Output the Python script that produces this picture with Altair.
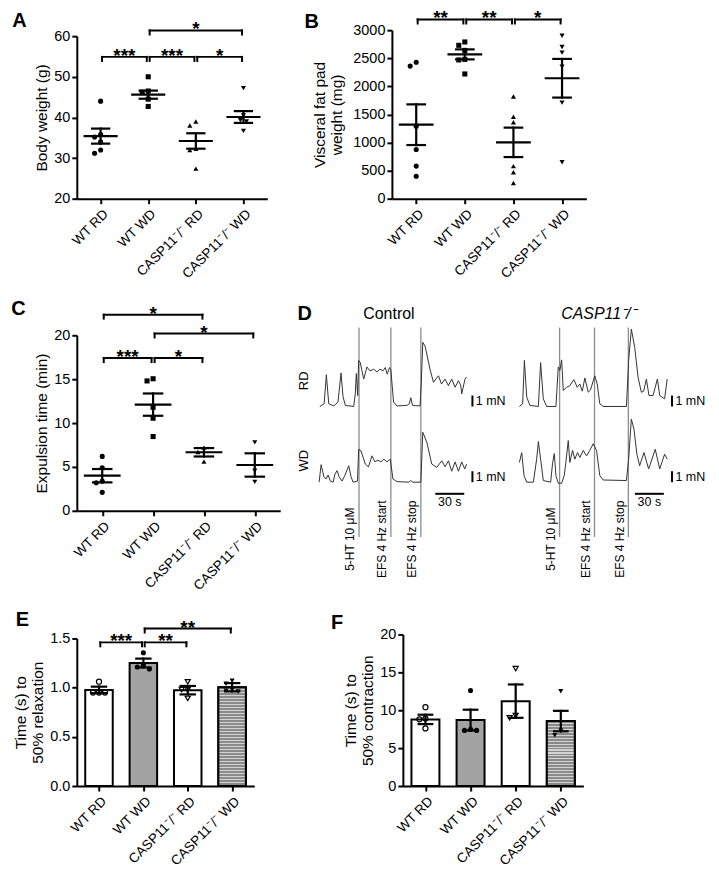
import json
import pandas as pd
import altair as alt

FONT = "Liberation Sans"
CATS = ["WT RD", "WT WD", "CASP11⁻/⁻ RD", "CASP11⁻/⁻ WD"]
LABEL_EXPR = json.dumps(CATS, ensure_ascii=False) + "[datum.value]"

# ---------------- Panel A: body weight (g)
a_wt_rd = [44.0, 35.8, 35.2, 34.0, 32.0, 31.2]
a_wt_wd = [50.0, 46.5, 46.2, 44.5, 42.7]
a_ko_rd = [39.0, 38.0, 34.5, 32.3, 32.0, 27.4]
a_ko_wd = [47.2, 40.5, 39.3, 39.0, 36.7]
a_mean = [35.4, 45.6, 34.2, 40.1]
a_sem = [1.85, 1.0, 1.9, 1.45]
a_brackets = [(0, 1, 54.9, "***"), (1, 2, 54.9, "***"), (2, 3, 54.9, "*"), (1, 3, 61.4, "*")]

# ---------------- Panel B: visceral fat pad weight (mg)
b_wt_rd = [2430, 2360, 1290, 875, 580, 400]
b_wt_wd = [2790, 2730, 2640, 2480, 2470, 2220]
b_ko_rd = [1820, 1460, 1360, 580, 470, 280]
b_ko_wd = [2900, 2700, 2600, 2350, 1710, 650]
b_mean = [1317, 2569, 1003, 2144]
b_sem = [362, 89, 262, 344]
b_brackets = [(0, 1, 3190, "**"), (1, 2, 3190, "**"), (2, 3, 3190, "*")]

# ---------------- Panel C: expulsion time (min)
c_wt_rd = [6.2, 4.9, 3.4, 3.2, 2.1]
c_wt_wd = [15.05, 14.8, 11.8, 10.55, 8.46]
c_ko_rd = [7.2, 6.7, 5.6]
c_ko_wd = [7.8, 4.57, 3.3]
c_mean = [4.0, 12.1, 6.67, 5.22]
c_sem = [0.76, 1.27, 0.48, 1.33]
c_brackets = [(0, 1, 17.4, "***"), (1, 2, 17.4, "*"), (1, 3, 20.2, "*"), (0, 2, 22.35, "*")]

# ---------------- Panel E: time to 50% relaxation (s)
e_wt_rd = [1.06, 0.95, 0.95, 0.95]
e_wt_wd = [1.355, 1.23, 1.21, 1.19]
e_ko_rd = [1.06, 0.98, 0.98, 0.89]
e_ko_wd = [1.07, 1.04, 0.98, 0.97, 0.96]
e_mean = [0.977, 1.25, 0.974, 1.004]
e_sem = [0.033, 0.045, 0.043, 0.042]
e_brackets = [(0, 1, 1.46, "***"), (1, 2, 1.46, "**"), (1, 3, 1.60, "**")]

# ---------------- Panel F: time to 50% contraction (s)
f_wt_rd = [10.4, 8.9, 8.8, 7.6]
f_wt_wd = [12.6, 7.47, 7.34, 7.34]
f_ko_rd = [15.5, 9.3, 9.0]
f_ko_wd = [12.5, 7.3, 6.7]
f_mean = [8.79, 8.7, 11.2, 8.57]
f_sem = [0.62, 1.37, 2.2, 1.35]

# ---------------- Panel D: isometric force traces (time s, force mN above baseline)
ctrl_rd_t = [0.7, 5.2, 7.5, 10, 15.2, 19.6, 22.7, 24.8, 27.2, 35.9, 37.5, 38.6, 40, 41, 42.7, 46.2, 49.6, 52.7,
             56.6, 60, 63, 66.2, 68.6, 70.6, 73.1, 74.4, 77.2, 80.7, 91, 93.6, 95.1, 96.9, 104.7, 105.9, 107.5,
             109.9, 115, 118.6, 121, 123.8, 126.9, 130.6, 134.1, 137.5, 141, 144.5, 146.8, 147.9, 151.3, 153]
ctrl_rd_v = [0, 0.25, 2.9, 0.25, 0.05, 0.4, 3.05, 0.9, 0.1, 0, 1.15, 3.0, 1.0, 4.2, 4.0, 2.5, 3.6, 3.25, 3.4,
             3.15, 3.4, 3.25, 3.55, 2.95, 3.55, 3.35, 0.4, 0.05, 0.1, 0.25, 0.8, 0.1, 0.05, 2.05, 5.85, 5.5, 3.4,
             2.2, 2.5, 2.8, 2.05, 2.5, 1.9, 2.5, 1.75, 2.35, 1.95, 1.15, 2.5, 2.7]
ctrl_wd_t = [0, 2.1, 4.9, 7.2, 9.3, 11.7, 14.5, 16.5, 18.6, 20.7, 23.8, 26.9, 30.7, 33.1, 35.2, 39.8, 41, 43.4,
             47.9, 51.2, 54.8, 57.9, 61, 64.1, 67.2, 70.3, 73.9, 76.5, 80.7, 93, 95, 97.2, 105.5, 107.5, 111.7,
             116.8, 122, 127.2, 130.6, 134.1, 137.5, 141, 144.5, 147.9, 151, 153]
ctrl_wd_v = [0, 1.6, 0.5, 0.3, 0.65, 0.1, 0, 0.75, 1.05, 0.5, 0.1, 0.65, 1.5, 0.5, 0, 0.1, 3.0, 2.85, 1.65, 1.4,
             2.4, 1.85, 2.0, 1.85, 2.1, 1.85, 2.1, 0.3, 0.05, 0, 0.15, 0, 0, 4.55, 3.65, 1.65, 1.35, 1.95, 1.4,
             1.95, 1.0, 1.85, 1.0, 1.85, 1.2, 1.65]
ko_rd_t = [0.7, 4.1, 5.9, 8.3, 11.7, 20.4, 22.7, 25.5, 29, 38.6, 41, 42.7, 44.5, 46.2, 49.6, 53, 57.2, 60.7, 63.4,
           65.9, 68.6, 72.1, 74.4, 78.9, 81.4, 84.1, 87.6, 111.7, 114, 116.8, 120.3, 123.8, 127.2, 129.6, 132.4,
           135.1, 139.3, 143.8, 146.2, 151.3, 154]
ko_rd_v = [0, 0.25, 4.2, 0.85, 0.1, 0, 4.0, 0.7, 0, 0, 3.6, 3.3, 4.25, 1.45, 1.75, 1.9, 2.45, 1.75, 2.05, 1.4,
           2.6, 1.3, 1.5, 2.8, 2.05, 0.25, 0, 0, 4.2, 7.05, 5.4, 2.65, 1.3, 1.4, 2.5, 1.0, 1.0, 2.5, 1.0, 0.7, 2.5]
ko_wd_t = [0.7, 3.1, 5.5, 8.3, 15.2, 18.6, 20.4, 22.7, 25.5, 33.1, 35.2, 36.9, 38.6, 41, 44.5, 47.2, 48.9, 51.4,
           53, 55.8, 58.2, 61, 63.4, 66.9, 70.3, 73.7, 77.2, 80.7, 84.1, 87.6, 111.7, 114, 116.8, 119.5, 122.6,
           125.4, 129.9, 134.7, 141.6, 146.2, 151.3, 154]
ko_wd_v = [1.8, 2.7, 0.6, 0, 0, 2.1, 3.7, 2.1, 0.15, 0, 1.8, 2.6, 0.6, -0.1, -0.1, 0.6, 1.8, 3.8, 1.8, 2.9, 2.1,
           2.7, 2.25, 2.9, 2.4, 2.9, 3.5, 2.9, 0.6, 0.2, 0.15, 2.1, 5.75, 4.85, 2.55, 1.5, 2.7, 1.2, 3.0, 1.2,
           2.55, 2.1]
event_labels = ["5-HT 10 μM", "EFS 4 Hz start", "EFS 4 Hz stop"]
ctrl_events = [41.4, 74.4, 105.5]
ko_events = [42.4, 78.6, 113.7]

ONE = pd.DataFrame({"k": [0]})


def swarm(vals, ppx, ppy, d=5.5):
    placed, offs = [], []
    cands = [0]
    for i in range(1, 10):
        cands += [-i, i]
    for v in vals:
        py = v * ppy
        px = 0.0
        for c in cands:
            px = c * d * 0.55
            if all((px - qx) ** 2 + (py - qy) ** 2 >= d * d for qx, qy in placed):
                break
        placed.append((px, py))
        offs.append(px / ppx)
    return offs


def letter_layer(letter, x, y):
    return alt.Chart(ONE).mark_text(font=FONT, fontSize=20, fontWeight="bold", align="center",
                                    baseline="middle", color="black").encode(
        x=alt.value(x), y=alt.value(y), text=alt.value(letter))


def panel(groups, means, sems, ydom, yrange, yticks, ytitle, xrange, brackets, leg, letter, lpos,
          width, height, kind="dot", yfmt="d", yoffset=0, shapes=None, filled=None, bar_fill=None,
          stripes=0, title_pad=4, size=26, mean_half=0.335, cap_half=0.18, bar_half=0.31):
    ppx = (xrange[1] - xrange[0]) / 4.0
    ppy = abs(yrange[0] - yrange[1]) / (ydom[1] - ydom[0])
    xs = alt.Scale(domain=[-0.5, 3.5], range=list(xrange), nice=False, zero=False)
    ys = alt.Scale(domain=list(ydom), range=list(yrange), nice=False, zero=False)
    xa = alt.Axis(values=[0, 1, 2, 3], labelExpr=LABEL_EXPR, labelAngle=-45, title=None,
                  labelFontSize=13.5, labelPadding=3, labelOverlap=False, grid=False)
    ya = alt.Axis(values=yticks, title=ytitle, format=yfmt, offset=yoffset, titlePadding=title_pad,
                  labelOverlap=False, grid=False)

    def X(f):
        return alt.X(f, type="quantitative", scale=xs, axis=xa)

    def Y(f):
        return alt.Y(f, type="quantitative", scale=ys, axis=ya)

    summ = pd.DataFrame({"i": list(range(4)), "g": CATS, "mean": means, "sem": sems})
    summ["lo"] = summ["mean"] - summ["sem"]
    summ["hi"] = summ["mean"] + summ["sem"]
    summ["m1"] = summ["i"] - mean_half
    summ["m2"] = summ["i"] + mean_half
    summ["c1"] = summ["i"] - cap_half
    summ["c2"] = summ["i"] + cap_half
    summ["b1"] = summ["i"] - bar_half
    summ["b2"] = summ["i"] + bar_half
    summ["zero"] = ydom[0]

    layers = []
    base = alt.Chart(summ)
    if kind == "bar":
        layers.append(base.mark_bar(stroke="black", strokeWidth=2).encode(
            x=X("b1"), x2="b2", y=Y("zero"), y2="mean",
            fill=alt.Fill("g:N", scale=alt.Scale(domain=CATS, range=bar_fill), legend=None)))
        stops = []
        for k in range(stripes):
            a = k / stripes
            m = (k + 0.62) / stripes
            b = (k + 1) / stripes
            stops += [{"offset": a, "color": "#8a8a8a"}, {"offset": m, "color": "#8a8a8a"},
                      {"offset": m, "color": "#d2d2d2"}, {"offset": b, "color": "#d2d2d2"}]
        grad = {"gradient": "linear", "x1": 0, "x2": 0, "y1": 0, "y2": 1, "stops": stops}
        layers.append(base.transform_filter(alt.datum.i == 3).mark_bar(
            stroke="black", strokeWidth=2, fill=grad).encode(x=X("b1"), x2="b2", y=Y("zero"), y2="mean"))

    # points, one layer per group so each keeps its own marker
    for gi, vals in enumerate(groups):
        pts = pd.DataFrame({"x": [gi + o for o in swarm(vals, ppx, ppy)], "v": vals})
        if filled[gi]:
            mk = alt.Chart(pts).mark_point(shape=shapes[gi], filled=True, color="black", size=size, opacity=1)
        else:
            mk = alt.Chart(pts).mark_point(shape=shapes[gi], filled=False, color="black", strokeWidth=1.2,
                                           size=size, opacity=1)
        layers.append(mk.encode(x=X("x"), y=Y("v")))

    rule = dict(color="black", strokeWidth=2.2, strokeCap="square")
    layers.append(base.mark_rule(**rule).encode(x=X("i"), y=Y("lo"), y2="hi"))
    layers.append(base.mark_rule(**rule).encode(x=X("c1"), x2="c2", y=Y("lo")))
    layers.append(base.mark_rule(**rule).encode(x=X("c1"), x2="c2", y=Y("hi")))
    if kind == "dot":
        layers.append(base.mark_rule(**rule).encode(x=X("m1"), x2="m2", y=Y("mean")))

    if brackets:
        br = pd.DataFrame(brackets, columns=["i", "j", "y", "lab"])
        br["a"] = br["i"] + 0.03
        br["b"] = br["j"] - 0.03
        br["yl"] = br["y"] - leg
        br["c"] = (br["i"] + br["j"]) / 2.0
        bc = alt.Chart(br)
        brule = dict(color="black", strokeWidth=2, strokeCap="square")
        layers.append(bc.mark_rule(**brule).encode(x=X("a"), x2="b", y=Y("y")))
        layers.append(bc.mark_rule(**brule).encode(x=X("a"), y=Y("yl"), y2="y"))
        layers.append(bc.mark_rule(**brule).encode(x=X("b"), y=Y("yl"), y2="y"))
        layers.append(bc.mark_text(font=FONT, fontSize=19, fontWeight="bold", baseline="alphabetic",
                                   dy=5, color="black").encode(x=X("c"), y=Y("y"), text="lab:N"))

    layers.append(letter_layer(letter, lpos[0], lpos[1]))
    return alt.layer(*layers).properties(width=width, height=height)


DOT_SHAPES = ["circle", "square", "triangle-up", "triangle-down"]
ALL_FILLED = [True, True, True, True]
BAR_SHAPES = ["circle", "circle", "triangle-down", "triangle-down"]
BAR_FILLED = [False, True, False, True]
BAR_COLORS = ["white", "#a3a3a3", "white", "#a3a3a3"]

chart_a = panel([a_wt_rd, a_wt_wd, a_ko_rd, a_ko_wd], a_mean, a_sem, (20, 60), (169, 6),
                [20, 30, 40, 50, 60], "Body weight (g)", (0, 191), a_brackets, 1.0, "A", (-57.5, -9),
                204, 169, shapes=DOT_SHAPES, filled=ALL_FILLED)
chart_b = panel([b_wt_rd, b_wt_wd, b_ko_rd, b_ko_wd], b_mean, b_sem, (0, 3000), (169, 0),
                [0, 500, 1000, 1500, 2000, 2500, 3000], ["Visceral fat pad", "weight (mg)"], (0, 195),
                b_brackets, 71, "B", (-80.5, -8), 195, 169, shapes=DOT_SHAPES, filled=ALL_FILLED,
                title_pad=8)
chart_c = panel([c_wt_rd, c_wt_wd, c_ko_rd, c_ko_wd], c_mean, c_sem, (0, 20), (213, 37),
                [0, 5, 10, 15, 20], "Expulsion time (min)", (0, 204), c_brackets, 0.45, "C", (-58.5, 11),
                204, 213, shapes=DOT_SHAPES, filled=ALL_FILLED, mean_half=0.34)
chart_e = panel([e_wt_rd, e_wt_wd, e_ko_rd, e_ko_wd], e_mean, e_sem, (0, 1.5), (176, 28),
                [0, 0.5, 1.0, 1.5], ["Time (s) to", "50% relaxation"], (0, 178), e_brackets, 0.04, "E",
                (-54.5, 10), 204, 176, kind="bar", yfmt=".1f", shapes=BAR_SHAPES, filled=BAR_FILLED,
                bar_fill=BAR_COLORS, stripes=33, cap_half=0.16)
chart_f = panel([f_wt_rd, f_wt_wd, f_ko_rd, f_ko_wd], f_mean, f_sem, (0, 20), (176, 24),
                [0, 5, 10, 15, 20], ["Time (s) to", "50% contraction"], (11, 192), [], 0, "F",
                (-55, 13), 195, 176, kind="bar", yoffset=-11, shapes=BAR_SHAPES, filled=BAR_FILLED,
                bar_fill=BAR_COLORS, stripes=22, cap_half=0.15)

# ---------------- Panel D
RD_OFFSET = 6.9
KO_SHIFT = 207
dxs = alt.Scale(domain=[0, 300], range=[-73, 217.1], nice=False, zero=False)
dys = alt.Scale(domain=[0, 10], range=[184.3, 74.3], nice=False, zero=False)


def DX(f):
    return alt.X(f, type="quantitative", scale=dxs, axis=None)


def DY(f):
    return alt.Y(f, type="quantitative", scale=dys, axis=None)


trace_rows = []
for name, shift, yoff, ts, vs in [("ctrl_rd", 0, RD_OFFSET, ctrl_rd_t, ctrl_rd_v),
                                  ("ctrl_wd", 0, 0, ctrl_wd_t, ctrl_wd_v),
                                  ("ko_rd", KO_SHIFT, RD_OFFSET, ko_rd_t, ko_rd_v),
                                  ("ko_wd", KO_SHIFT, 0, ko_wd_t, ko_wd_v)]:
    for k, (t, v) in enumerate(zip(ts, vs)):
        trace_rows.append({"trace": name, "k": k, "t": t + shift, "v": v + yoff})
traces = pd.DataFrame(trace_rows)

ev_rows = []
for shift, evs in [(0, ctrl_events), (KO_SHIFT, ko_events)]:
    for lab, t in zip(event_labels, evs):
        ev_rows.append({"t": t + shift, "lo": -5.0, "hi": 14.1, "tl": t + shift - 4.9, "vl": -5.2, "lab": lab})
events = pd.DataFrame(ev_rows)

bars_rows = []
for shift in (0, KO_SHIFT):
    for base_v in (RD_OFFSET, 0):
        bars_rows.append({"t": 159 + shift, "v1": base_v, "v2": base_v + 1, "tt": 162.5 + shift,
                          "vm": base_v + 0.5, "lab": "1 mN"})
sbars = pd.DataFrame(bars_rows)
tbars = pd.DataFrame({"t1": [120.5, 120.5 + KO_SHIFT], "t2": [150.5, 150.5 + KO_SHIFT],
                      "v": [-1.06, -1.06], "tm": [135.5, 135.5 + KO_SHIFT], "vt": [-1.85, -1.85],
                      "lab": ["30 s", "30 s"]})
row_labels = pd.DataFrame({"t": [-15.5, -15.5], "v": [RD_OFFSET + 2.34, 1.96], "lab": ["RD", "WD"]})
head_ctrl = pd.DataFrame({"t": [72.4], "v": [15.3], "lab": ["Control"]})
head_ko = pd.DataFrame({"t": [82.6 + KO_SHIFT], "v": [15.3], "lab": ["CASP11⁻/⁻"]})

d_layers = [
    alt.Chart(events).mark_rule(color="#8c8c8c", strokeWidth=1.3).encode(x=DX("t"), y=DY("lo"), y2="hi"),
    alt.Chart(traces).mark_line(color="#333333", strokeWidth=1).encode(
        x=DX("t"), y=DY("v"), detail="trace:N", order="k:Q"),
    alt.Chart(events).mark_text(font=FONT, fontSize=12, angle=270, align="center", baseline="alphabetic",
                                color="black").encode(x=DX("tl"), y=DY("vl"), text="lab:N"),
    alt.Chart(sbars).mark_rule(color="black", strokeWidth=2).encode(x=DX("t"), y=DY("v1"), y2="v2"),
    alt.Chart(sbars).mark_text(font=FONT, fontSize=12.5, align="left", baseline="middle",
                               color="black").encode(x=DX("tt"), y=DY("vm"), text="lab:N"),
    alt.Chart(tbars).mark_rule(color="black", strokeWidth=2).encode(x=DX("t1"), x2="t2", y=DY("v")),
    alt.Chart(tbars).mark_text(font=FONT, fontSize=12.5, align="center", baseline="middle",
                               color="black").encode(x=DX("tm"), y=DY("vt"), text="lab:N"),
    alt.Chart(row_labels).mark_text(font=FONT, fontSize=13, angle=270, align="center", baseline="middle",
                                    color="black").encode(x=DX("t"), y=DY("v"), text="lab:N"),
    alt.Chart(head_ctrl).mark_text(font=FONT, fontSize=16, align="center", baseline="middle",
                                   color="black").encode(x=DX("t"), y=DY("v"), text="lab:N"),
    alt.Chart(head_ko).mark_text(font=FONT, fontSize=16, fontStyle="italic", align="center",
                                 baseline="middle", color="black").encode(x=DX("t"), y=DY("v"), text="lab:N"),
    letter_layer("D", -87.5, 16),
]
chart_d = alt.layer(*d_layers).properties(width=195, height=213)

chart = alt.concat(chart_a, chart_b, chart_c, chart_d, chart_e, chart_f, columns=2,
                   spacing={"row": 100, "column": 112}, bounds="flush", align="each").properties(
    padding={"left": 3, "top": 0, "right": 5, "bottom": 5}
).configure_view(stroke=None).configure_axis(
    labelFont=FONT, titleFont=FONT, labelFontSize=14.5, titleFontSize=15.5, titleFontWeight="normal",
    labelColor="black", titleColor="black", domainColor="black", domainWidth=2, tickColor="black",
    tickWidth=2, tickSize=5, grid=False
)

chart.save("out.html", embed_options={"renderer": "svg", "actions": False})
